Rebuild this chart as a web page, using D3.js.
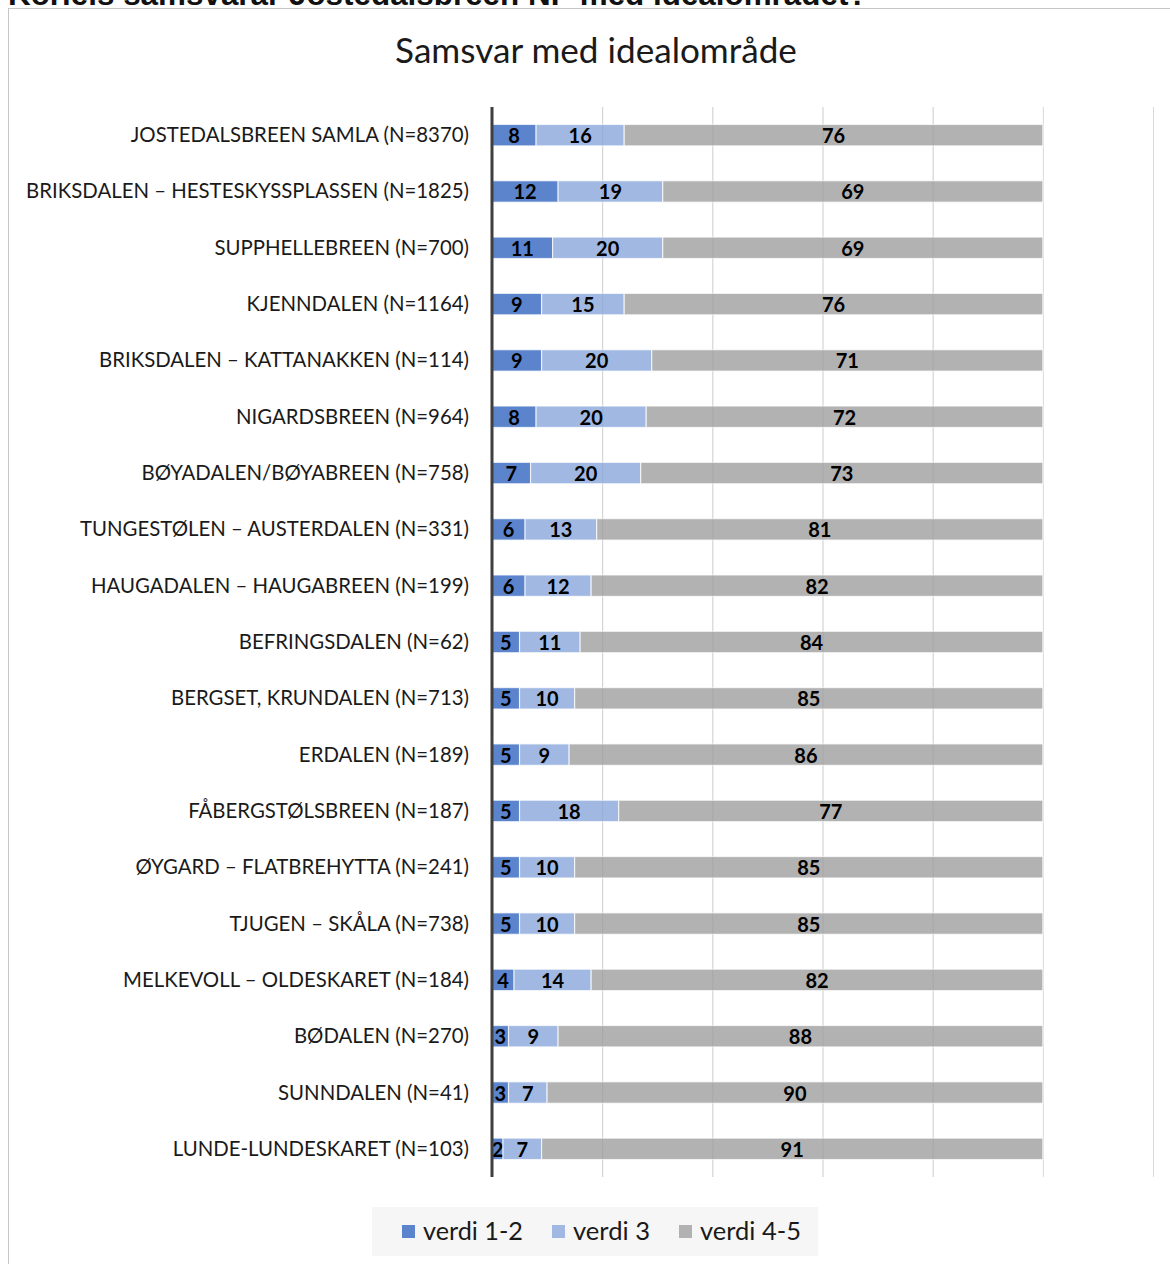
<!DOCTYPE html>
<html>
<head>
<meta charset="utf-8">
<script src="https://cdn.jsdelivr.net/npm/d3@7"></script>
<style>
  html, body { margin: 0; padding: 0; background: #fff; }
  svg { display: block; }
</style>
</head>
<body>
<svg id="chart" width="1170" height="1264"></svg>
<script>
const pageTitle = "Korleis samsvarar Jostedalsbreen NP med idealområdet?";
const chartTitle = "Samsvar med idealområde";
const categories = [
  "JOSTEDALSBREEN SAMLA (N=8370)",
  "BRIKSDALEN – HESTESKYSSPLASSEN (N=1825)",
  "SUPPHELLEBREEN (N=700)",
  "KJENNDALEN (N=1164)",
  "BRIKSDALEN – KATTANAKKEN (N=114)",
  "NIGARDSBREEN (N=964)",
  "BØYADALEN/BØYABREEN (N=758)",
  "TUNGESTØLEN – AUSTERDALEN (N=331)",
  "HAUGADALEN – HAUGABREEN (N=199)",
  "BEFRINGSDALEN (N=62)",
  "BERGSET, KRUNDALEN (N=713)",
  "ERDALEN (N=189)",
  "FÅBERGSTØLSBREEN (N=187)",
  "ØYGARD – FLATBREHYTTA (N=241)",
  "TJUGEN – SKÅLA (N=738)",
  "MELKEVOLL – OLDESKARET (N=184)",
  "BØDALEN (N=270)",
  "SUNNDALEN (N=41)",
  "LUNDE-LUNDESKARET (N=103)"
];
const seriesNames = ["verdi 1-2", "verdi 3", "verdi 4-5"];
const verdi12 = [8, 12, 11, 9, 9, 8, 7, 6, 6, 5, 5, 5, 5, 5, 5, 4, 3, 3, 2];
const verdi3  = [16, 19, 20, 15, 20, 20, 20, 13, 12, 11, 10, 9, 18, 10, 10, 14, 9, 7, 7];
const verdi45 = [76, 69, 69, 76, 71, 72, 73, 81, 82, 84, 85, 86, 77, 85, 85, 82, 88, 90, 91];
const xTicks = [0, 20, 40, 60, 80, 100, 120];
const colors = ["#5b84cc", "#a1b9e2", "#b2b2b2"];

const svg = d3.select("#chart");

// outer page title (clipped at top, as in the reference)
const pt = svg.append("text")
  .attr("x", 8).attr("y", 5)
  .attr("font-family", "Liberation Sans, Arial, sans-serif")
  .attr("font-weight", "bold")
  .attr("font-size", 26)
  .attr("fill", "#111")
  .text(pageTitle);
{
  const w = pt.node().getComputedTextLength();
  pt.attr("font-size", 26 * 860 / w);
}

// chart frame
svg.append("rect")
  .attr("x", 8.5).attr("y", 8.5)
  .attr("width", 1180).attr("height", 1270)
  .attr("fill", "#fff")
  .attr("stroke", "#c6c6c6").attr("stroke-width", 1);

// chart title
const ct = svg.append("text")
  .attr("x", 596).attr("y", 63)
  .attr("text-anchor", "middle")
  .attr("font-family", "Lato, 'Open Sans', sans-serif")
  .attr("font-size", 31)
  .attr("fill", "#1a1a1a")
  .text(chartTitle);
{
  const w = ct.node().getComputedTextLength();
  ct.attr("font-size", 31 * 402 / w);
}

const x = d3.scaleLinear().domain([0, 120]).range([492, 1153]);
const y = d3.scaleBand().domain(categories).range([107, 1177]).paddingInner(0.62).paddingOuter(0.31);

// gridlines (under bars)
svg.append("g").selectAll("line")
  .data(xTicks.slice(1))
  .join("line")
  .attr("x1", d => x(d) + 0.5).attr("x2", d => x(d) + 0.5)
  .attr("y1", 107).attr("y2", 1177)
  .attr("stroke", "#d9d9d9").attr("stroke-width", 1);

// stacked data
const rows = categories.map((c, i) => ({
  cat: c, "verdi 1-2": verdi12[i], "verdi 3": verdi3[i], "verdi 4-5": verdi45[i]
}));
const stacked = d3.stack().keys(seriesNames)(rows);

const layers = svg.append("g").selectAll("g")
  .data(stacked)
  .join("g")
  .attr("fill", (d, i) => colors[i]);

layers.selectAll("rect")
  .data(d => d)
  .join("rect")
  .attr("x", d => x(d[0]))
  .attr("y", d => y(d.data.cat))
  .attr("width", d => x(d[1]) - x(d[0]))
  .attr("height", y.bandwidth())
  .attr("stroke", "#ffffff").attr("stroke-opacity", 0.7).attr("stroke-width", 1.2);

// faint gridline overlay visible through bars
svg.append("g").selectAll("line")
  .data(xTicks.slice(1, 5))
  .join("line")
  .attr("x1", d => x(d) + 0.5).attr("x2", d => x(d) + 0.5)
  .attr("y1", 107).attr("y2", 1177)
  .attr("stroke", "#000").attr("stroke-opacity", 0.06).attr("stroke-width", 1);

// data labels
layers.selectAll("text")
  .data((d) => d.map(p => ({p, key: d.key})))
  .join("text")
  .attr("x", d => x((d.p[0] + d.p[1]) / 2))
  .attr("y", d => y(d.p.data.cat) + y.bandwidth() / 2 + 8)
  .attr("text-anchor", "middle")
  .attr("font-family", "Lato, 'Open Sans', sans-serif")
  .attr("font-weight", "bold")
  .attr("font-size", 20)
  .attr("fill", "#000")
  .text(d => d.p.data[d.key]);

// axis line
svg.append("line")
  .attr("x1", 492).attr("x2", 492)
  .attr("y1", 107).attr("y2", 1177)
  .attr("stroke", "#3f3f3f").attr("stroke-width", 3);

// category labels
const labels = svg.append("g").selectAll("text")
  .data(categories)
  .join("text")
  .attr("x", 469)
  .attr("y", d => y(d) + y.bandwidth() / 2 + 7)
  .attr("text-anchor", "end")
  .attr("font-family", "Lato, 'Open Sans', sans-serif")
  .attr("font-size", 19)
  .attr("fill", "#1a1a1a")
  .text(d => d);
{
  const w = labels.filter((d, i) => i === 1).node().getComputedTextLength();
  labels.attr("font-size", 19 * 443 / w);
}

// legend
const lg = svg.append("g");
lg.append("rect")
  .attr("x", 372).attr("y", 1207).attr("width", 446).attr("height", 49)
  .attr("fill", "#f6f6f6");
const legendX = [402, 552, 679];
const legendTextW = [100, 77, 101];
seriesNames.forEach((s, i) => {
  lg.append("rect")
    .attr("x", legendX[i]).attr("y", 1225).attr("width", 13).attr("height", 13)
    .attr("fill", colors[i]);
  const t = lg.append("text")
    .attr("x", legendX[i] + 21).attr("y", 1240)
    .attr("font-family", "Lato, 'Open Sans', sans-serif")
    .attr("font-size", 23)
    .attr("fill", "#1a1a1a")
    .text(s);
  const w = t.node().getComputedTextLength();
  t.attr("font-size", 23 * legendTextW[i] / w);
});
</script>
</body>
</html>
